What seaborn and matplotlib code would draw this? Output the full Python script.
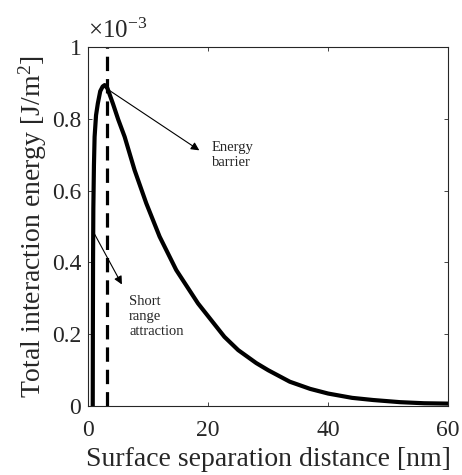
import numpy as np
import pandas as pd
import matplotlib
matplotlib.use('Agg')
import matplotlib.pyplot as plt
from matplotlib.ticker import FuncFormatter
import seaborn as sns

# curve (x in nm, energy in 1e-3 J/m^2)
distance_nm = [0.75, 0.77, 0.8, 0.85, 0.95, 1.06, 1.3, 1.6, 2.0, 2.4, 2.73, 3.2, 4.1,
               5.0, 6.07, 7.73, 9.67, 11.9, 14.67, 18.3, 22.7, 25.0, 28.0, 30.0,
               33.6, 37.0, 40.0, 44.0, 47.5, 52.0, 56.0, 60.0]
energy_e3 = [0.0, 0.2, 0.4, 0.55, 0.67, 0.75, 0.81, 0.843, 0.877, 0.89, 0.894, 0.885,
             0.843, 0.798, 0.75, 0.657, 0.565, 0.472, 0.379, 0.286, 0.193, 0.156,
             0.12, 0.10, 0.068, 0.048, 0.035, 0.023, 0.017, 0.011, 0.008, 0.007]
barrier_x = 3.1

xticks = [0, 20, 40, 60]
yticks = [0, 0.2e-3, 0.4e-3, 0.6e-3, 0.8e-3, 1e-3]

df = pd.DataFrame({'h': distance_nm, 'E': np.array(energy_e3) * 1e-3})

sns.set_theme(style='ticks')
plt.rcParams['font.family'] = ['Liberation Serif', 'DejaVu Serif']
plt.rcParams['mathtext.fontset'] = 'custom'
plt.rcParams['mathtext.rm'] = 'Liberation Serif'
plt.rcParams['mathtext.it'] = 'Liberation Serif:italic'

fig = plt.figure(figsize=(4.62, 4.75), dpi=100)
ax = fig.add_axes([0.191, 0.145, 0.779, 0.756])

sns.lineplot(data=df, x='h', y='E', color='black', linewidth=3.0, ax=ax)
ax.axvline(barrier_x, color='black', linewidth=2.3, linestyle=(0, (4.5, 2.5)))

ax.set_xlim(0, 60)
ax.set_ylim(0, 1e-3)
ax.set_xticks(xticks)
ax.set_yticks(yticks)
ax.xaxis.set_major_formatter(FuncFormatter(lambda v, _: f'{v:g}'))
ax.yaxis.set_major_formatter(FuncFormatter(lambda v, _: f'{v * 1e3:g}'))
ax.tick_params(direction='in', length=3, width=0.6, labelsize=17, color='#262626',
               top=True, right=True)
ax.tick_params(axis='x', pad=10)
ax.tick_params(axis='y', pad=5)
for s in ax.spines.values():
    s.set_linewidth(0.8)
    s.set_color('#262626')

ax.set_xlabel('Surface separation distance [nm]', fontsize=20, labelpad=4)
ax.set_ylabel(r'Total interaction energy [J/m$^2$]', fontsize=20, labelpad=2)
ax.text(0.0, 1.012, r'$\times$10$^{-3}$', transform=ax.transAxes, fontsize=18,
        ha='left', va='bottom')

arrow = dict(arrowstyle='-|>', color='black', lw=0.8, mutation_scale=12)
ax.annotate('', xy=(18.9, 0.708e-3), xytext=(3.0, 0.885e-3), arrowprops=arrow)
ax.text(20.6, 0.70e-3, 'Energy\nbarrier', fontsize=10.5, ha='left', va='center',
        linespacing=1.2)
ax.annotate('', xy=(5.83, 0.332e-3), xytext=(0.83, 0.486e-3), arrowprops=arrow)
ax.text(6.8, 0.25e-3, 'Short\nrange\nattraction', fontsize=10.5, ha='left', va='center',
        linespacing=1.2)

plt.savefig('out.png', dpi=100)
